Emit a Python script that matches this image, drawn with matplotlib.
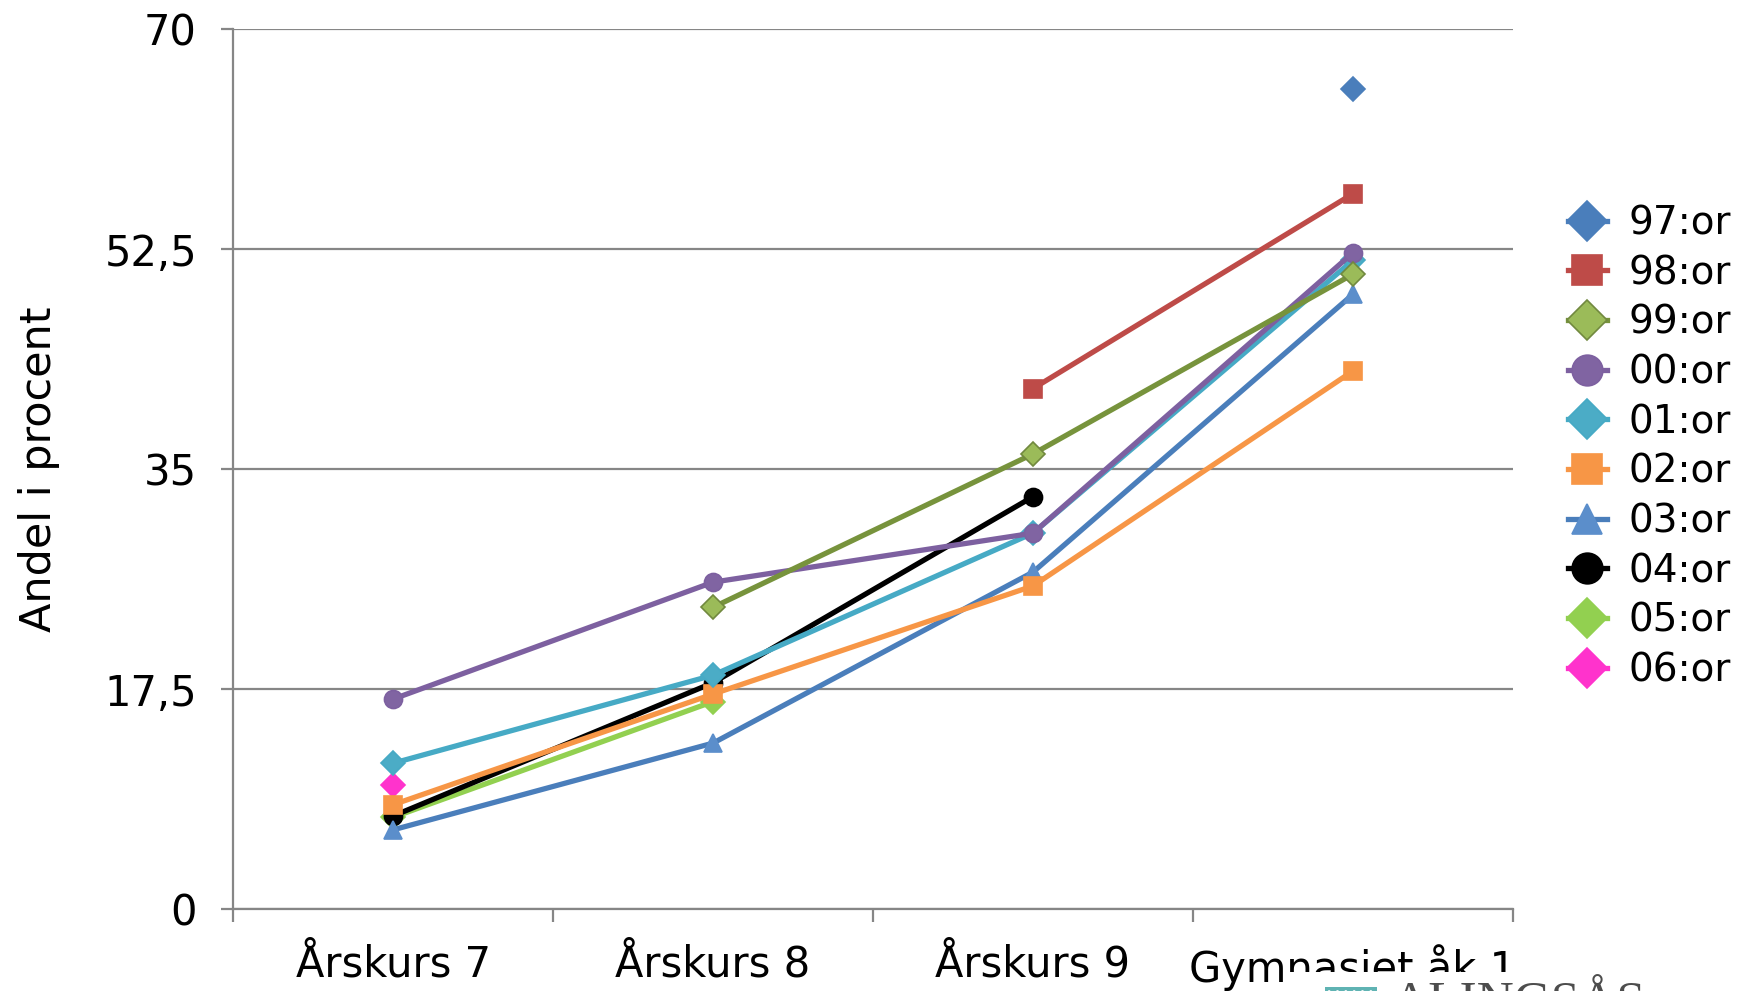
import numpy as np
import matplotlib
matplotlib.use("Agg")
import matplotlib.pyplot as plt
from matplotlib.patches import Rectangle

# data
categories = ['Årskurs 7', 'Årskurs 8', 'Årskurs 9', 'Gymnasiet åk 1']
series_names = ['97:or', '98:or', '99:or', '00:or', '01:or', '02:or', '03:or', '04:or', '05:or', '06:or']
nan = np.nan
y97 = [nan, nan, nan, 65.2]
y98 = [nan, nan, 41.4, 56.9]
y99 = [nan, 24.0, 36.2, 50.5]
y00 = [16.7, 26.0, 29.9, 52.2]
y01 = [11.6, 18.6, 29.9, 51.6]
y02 = [8.3, 17.1, 25.7, 42.8]
y03 = [6.3, 13.2, 26.8, 48.9]
y04 = [7.4, 18.0, 32.8, nan]
y05 = [7.3, 16.5, nan, nan]
y06 = [9.9, nan, nan, nan]
yticks = [0, 17.5, 35, 52.5, 70]
ytick_labels = ['0', '17,5', '35', '52,5', '70']

all_series = [y97, y98, y99, y00, y01, y02, y03, y04, y05, y06]

# style per series: line color, marker, marker face, marker edge, size
styles = [
    ('#4A7EBB', 'D', '#4A7EBB', '#4A7EBB', 12),
    ('#BE4B48', 's', '#BE4B48', '#BE4B48', 13),
    ('#77933C', 'D', '#9BBB59', '#71893F', 12),
    ('#7D60A0', 'o', '#8064A2', '#7D60A0', 13),
    ('#46AAC5', 'D', '#4BACC6', '#46AAC5', 12),
    ('#F79646', 's', '#F79646', '#F79646', 13),
    ('#4A7EBB', '^', '#5B8ECB', '#5B8ECB', 13),
    ('#000000', 'o', '#000000', '#000000', 13),
    ('#92D050', 'D', '#92D050', '#92D050', 12),
    ('#FF33CC', 'D', '#FF33CC', '#FF33CC', 12),
]

fig = plt.figure(figsize=(17.42, 9.91), dpi=100)
ax = fig.add_axes([0.1338, 0.0827, 0.7347, 0.888])

x = np.arange(len(categories))
handles = []
for i, (ys, name, st) in enumerate(zip(all_series, series_names, styles)):
    col, mk, fc, ec, ms = st
    h, = ax.plot(x, ys, color=col, lw=3.8, marker=mk, markersize=ms,
                 markerfacecolor=fc, markeredgecolor=ec, markeredgewidth=1.2,
                 label=name, zorder=20 - i, clip_on=False)
    handles.append(h)

ax.set_xlim(-0.5, 3.5)
ax.set_ylim(0, 70)
ax.set_yticks(yticks)
ax.set_yticklabels(ytick_labels)
ax.set_xticks(x)
ax.set_xticklabels(categories)
ax.set_xticks(np.arange(-0.5, 4.0, 1.0), minor=True)
ax.tick_params(axis='x', which='major', length=0, pad=25, labelsize=30)
ax.tick_params(axis='x', which='minor', length=9, width=1.6, color='#868686', direction='out')
ax.tick_params(axis='y', length=9, width=1.6, color='#868686', pad=17, labelsize=30)

ax.grid(axis='y', color='#868686', lw=1.6)
ax.set_axisbelow(True)
for s in ['top', 'right']:
    ax.spines[s].set_visible(False)
for s in ['left', 'bottom']:
    ax.spines[s].set_color('#868686')
    ax.spines[s].set_linewidth(1.6)

ax.set_ylabel('Andel i procent', fontsize=31, labelpad=32)

fig.legend(handles=handles, loc='center left', bbox_to_anchor=(0.9, 0.549),
           frameon=False, fontsize=28, markerscale=1.7, handlelength=1.0,
           handletextpad=0.55, labelspacing=0.3, borderpad=0, borderaxespad=0)

# logo bit at bottom right, covering part of the last label
fig.patches.append(Rectangle((0.7365, 0), 0.27, 0.019, transform=fig.transFigure,
                             facecolor='white', edgecolor='none', zorder=50))
fig.patches.append(Rectangle((0.7606, 0), 0.03, 0.0045, transform=fig.transFigure,
                             facecolor='#5FB3B3', edgecolor='white', hatch='..',
                             lw=0, zorder=51))
fig.text(0.799, -0.026, 'ALINGSÅS', fontsize=37, family='Liberation Serif',
         color='#4d4d4d', va='baseline', ha='left', zorder=52)

fig.savefig('out.png', dpi=100)
